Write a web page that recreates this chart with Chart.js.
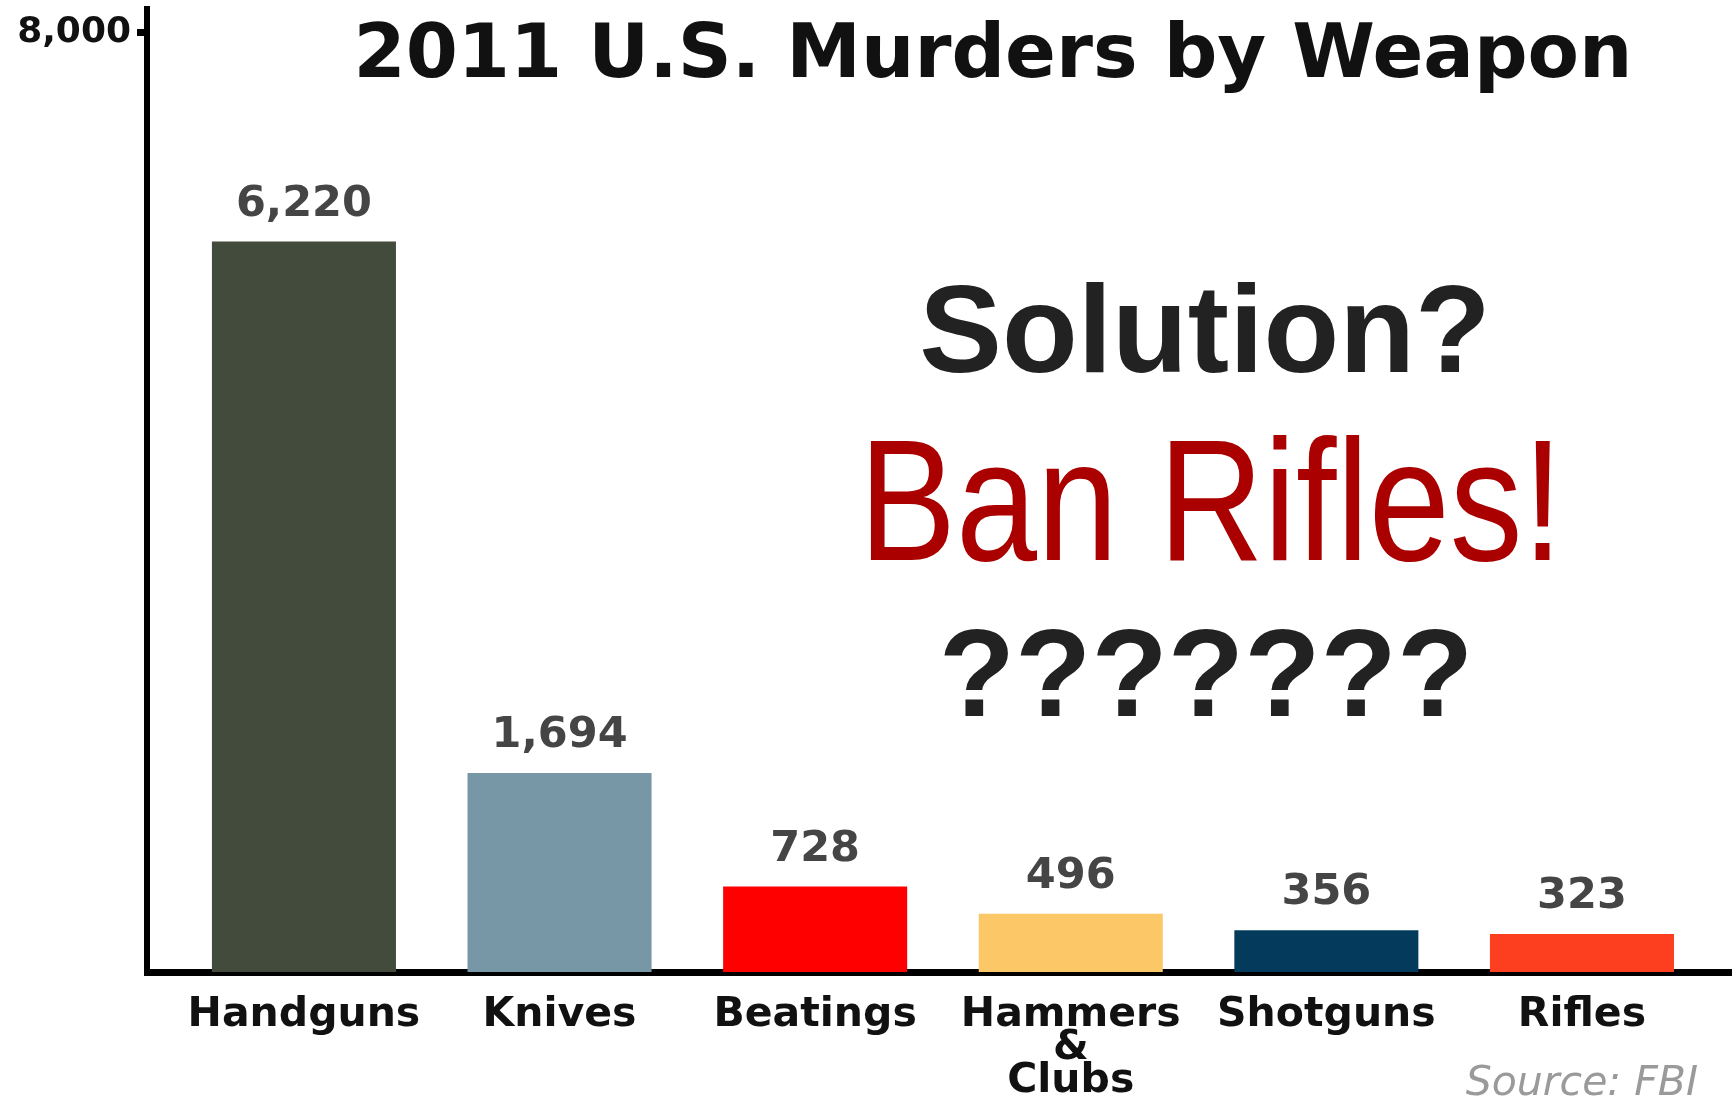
<!DOCTYPE html>
<html>
<head>
<meta charset="utf-8">
<script src="https://cdn.jsdelivr.net/npm/chart.js@4.4.1/dist/chart.umd.min.js"></script>
<style>
  html, body { margin: 0; padding: 0; background: #ffffff; }
  #wrap { position: relative; width: 1732px; height: 1099px; }
</style>
</head>
<body>
<div id="wrap"><canvas id="c" width="1732" height="1099"></canvas></div>
<script>
// ---- data ----
const categories = ['Handguns', 'Knives', 'Beatings', ['Hammers', '&', 'Clubs'], 'Shotguns', 'Rifles'];
const murders = [6220, 1694, 728, 496, 356, 323];
const barColors = ['#434c3c', '#7796a6', '#fe0000', '#fcc766', '#043b5c', '#fd3f20'];
const yTicks = [8000];
const chartTitle = '2011 U.S. Murders by Weapon';
const overlayQuestion = 'Solution?';
const overlayAnswer = 'Ban Rifles!';
const overlayMarks = '???????';
const sourceNote = 'Source: FBI';

const fmt = v => Number(v).toLocaleString('en-US');

// table built for the library: category index on x, value on y
const barPoints = murders.map((v, i) => ({ x: i, y: v }));

const valueLabels = {
  id: 'valueLabels',
  afterDatasetsDraw(chart) {
    const ctx = chart.ctx;
    const meta = chart.getDatasetMeta(0);
    ctx.save();
    ctx.font = 'bold 43px "DejaVu Sans"';
    ctx.fillStyle = '#454545';
    ctx.textAlign = 'center';
    ctx.textBaseline = 'middle';
    meta.data.forEach((bar, i) => {
      ctx.fillText(fmt(murders[i]), bar.x, bar.y - 37);
    });
    ctx.restore();
  }
};

const overlayText = {
  id: 'overlayText',
  afterDraw(chart) {
    const ctx = chart.ctx;
    ctx.save();
    ctx.textAlign = 'center';
    ctx.textBaseline = 'alphabetic';
    // title
    ctx.font = 'bold 75px "DejaVu Sans"';
    ctx.fillStyle = '#111111';
    ctx.fillText(chartTitle, 993, 77);
    // Solution?
    ctx.font = 'bold 124px "Liberation Sans"';
    ctx.fillStyle = '#222222';
    ctx.fillText(overlayQuestion, 1205, 372);
    // Ban Rifles!
    ctx.font = '172px "Liberation Sans"';
    ctx.fillStyle = '#aa0000';
    ctx.fillText(overlayAnswer, 1211, 560, 704);
    // ???????
    ctx.font = 'bold 125px "Liberation Sans"';
    ctx.fillStyle = '#222222';
    ctx.fillText(overlayMarks, 1206, 716);
    // source
    ctx.textAlign = 'right';
    ctx.font = 'italic 41px "DejaVu Sans"';
    ctx.fillStyle = '#9a9a9a';
    ctx.fillText(sourceNote, 1698, 1095);
    ctx.restore();
  }
};

new Chart(document.getElementById('c'), {
  type: 'bar',
  data: {
    datasets: [{
      data: barPoints,
      backgroundColor: barColors,
      borderWidth: 0,
      barPercentage: 0.72,
      categoryPercentage: 1.0
    }]
  },
  options: {
    responsive: false,
    animation: false,
    layout: { padding: { top: 9, left: 0, right: 0, bottom: 0 } },
    plugins: { legend: { display: false }, title: { display: false }, tooltip: { enabled: false } },
    scales: {
      x: {
        type: 'linear',
        offset: false,
        min: -0.614,
        max: 5.587,
        afterBuildTicks: s => { s.ticks = categories.map((c, i) => ({ value: i })); },
        afterFit: s => { s.height = 127; s.paddingLeft = 0; s.paddingRight = 0; },
        grid: { display: false, drawTicks: false, offset: false },
        border: { display: true, color: '#000000', width: 7 },
        ticks: {
          padding: 27,
          color: '#111111',
          maxRotation: 0,
          autoSkip: false,
          font: { family: 'DejaVu Sans', weight: 'bold', size: 41, lineHeight: 0.8 },
          callback: v => categories[v]
        }
      },
      y: {
        min: 0,
        max: 8200,
        afterBuildTicks: s => { s.ticks = yTicks.map(v => ({ value: v })); },
        afterFit: s => { s.width = 147; s.paddingTop = 0; s.paddingBottom = 0; },
        grid: { drawOnChartArea: false, drawTicks: true, tickLength: 10, tickWidth: 7, tickColor: '#000000' },
        border: { display: true, color: '#000000', width: 6 },
        ticks: {
          padding: 6,
          color: '#111111',
          font: { family: 'DejaVu Sans', weight: 'bold', size: 36 },
          callback: v => fmt(v)
        }
      }
    }
  },
  plugins: [valueLabels, overlayText]
});
</script>
</body>
</html>
